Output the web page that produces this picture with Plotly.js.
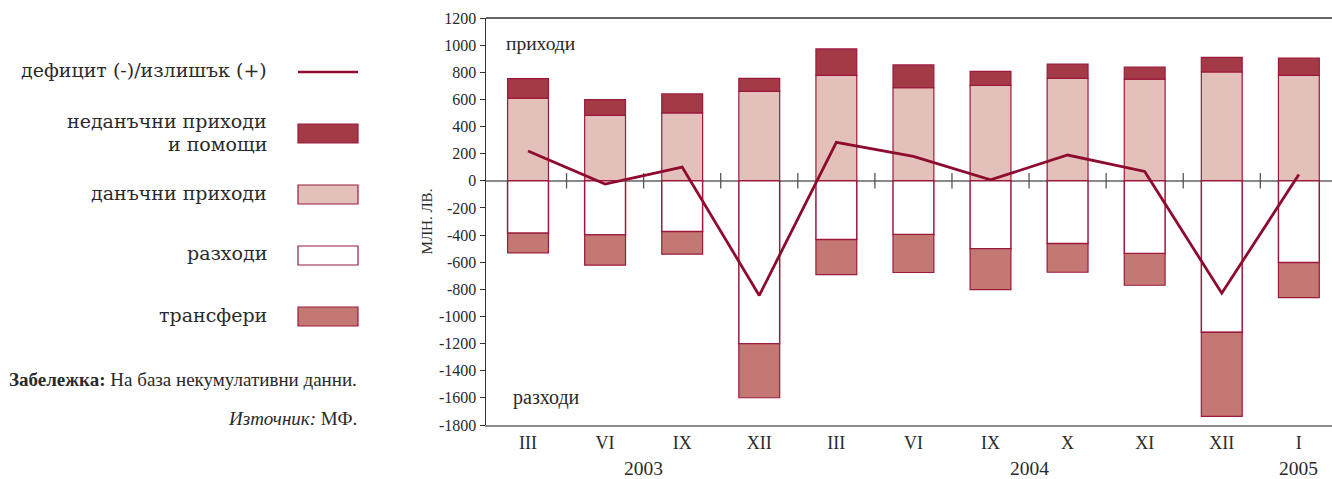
<!DOCTYPE html>
<html><head><meta charset="utf-8">
<script src="https://cdn.plot.ly/plotly-3.0.1.min.js"></script>
<style>html,body{margin:0;padding:0;background:#fff}#chart{width:1332px;height:479px}</style>
</head><body><div id="chart"></div>
<script>
// ---- data ----
const months = ['III','VI','IX','XII','III','VI','IX','X','XI','XII','I'];
const years = ['2003','2004','2005'];
const yearCenters = [1.5, 6.5, 10];
const taxRevenue = [610,482,500,659,777,686,703,755,750,802,777];
const nonTaxRevenue = [143,116,140,96,195,168,104,106,89,108,128];
const expenditures = [-386,-399,-374,-1201,-433,-396,-500,-463,-536,-1117,-603];
const transfers = [-145,-223,-167,-398,-258,-280,-302,-211,-234,-620,-258];
const balance = [220,-24,101,-845,283,180,7,190,69,-829,47];
const yTickVals = [1200,1000,800,600,400,200,0,-200,-400,-600,-800,-1000,-1200,-1400,-1600,-1800];
const yTickText = ['1200','1000','800','600','400','200','0','-200','-400','-600','-800','-1000','-1200','-1400','-1600','-1800'];
const legendLabels = ['дефицит (-)/излишък (+)','неданъчни приходи','и помощи','данъчни приходи','разходи','трансфери'];

// ---- styles ----
const FONT = 'Liberation Serif, Times New Roman, serif';
const LFONT = 'DejaVu Serif, serif';
const TXT = '#2a2a2a';
const C_NONTAX = '#a33a46';
const C_TAX = '#e3c0ba';
const C_TRANS = '#c47874';
const C_EDGE = '#9b1a3c';
const C_LINE = '#8e0b30';

const L = 486, T = 18, W = 846, H = 407;
const px = x => (x - L) / W;
const py = y => (T + H - y) / H;

const xs = months.map((_, i) => i);
const barW = 0.53;

const traces = [
  {type:'bar', x:xs, y:taxRevenue, width:barW, marker:{color:C_TAX, line:{color:C_EDGE, width:1.2}}, hoverinfo:'y', showlegend:false},
  {type:'bar', x:xs, y:nonTaxRevenue, width:barW, marker:{color:C_NONTAX, line:{color:C_EDGE, width:1.2}}, hoverinfo:'y', showlegend:false},
  {type:'bar', x:xs, y:expenditures, width:barW, marker:{color:'#ffffff', line:{color:C_EDGE, width:1.5}}, hoverinfo:'y', showlegend:false},
  {type:'bar', x:xs, y:transfers, width:barW, marker:{color:C_TRANS, line:{color:C_EDGE, width:1.2}}, hoverinfo:'y', showlegend:false},
  {type:'scatter', mode:'markers', x:xs.slice(0, -1).map(v => v + 0.5), y:xs.slice(0, -1).map(() => 0),
   marker:{symbol:'line-ns-open', size:11, color:'#555', line:{color:'#555', width:1.3}}, hoverinfo:'skip', showlegend:false},
  {type:'scatter', mode:'lines', x:xs, y:balance, line:{color:C_LINE, width:2.8}, hoverinfo:'y', showlegend:false}
];

const annotations = [];
const shapes = [];
function txt(text, x, y, anchor, size, family) {
  annotations.push({text, xref:'paper', yref:'paper', x:px(x), y:py(y), xanchor:anchor, yanchor:'middle',
    showarrow:false, font:{family:family || FONT, size, color:TXT}});
}
// legend texts
const legY = [69.5, 120.5, 143.5, 192.5, 253, 314.5];
legendLabels.forEach((t, i) => txt(t, 269, legY[i], 'right', 19, LFONT));
// legend swatches
shapes.push({type:'line', xref:'paper', yref:'paper', x0:px(298), x1:px(358), y0:py(72), y1:py(72), line:{color:C_LINE, width:2.5}});
function box(y0, y1, fill) {
  shapes.push({type:'rect', xref:'paper', yref:'paper', x0:px(298), x1:px(358), y0:py(y1), y1:py(y0), fillcolor:fill, line:{color:C_EDGE, width:1.2}});
}
box(124, 143, C_NONTAX);
box(185, 204, C_TAX);
box(246, 265, '#ffffff');
box(307, 326, C_TRANS);
// notes
txt('<b>Забележка:</b> На база некумулативни данни.', 7, 379, 'left', 19);
txt('<i>Източник:</i> МФ.', 359, 418, 'right', 19);
// in-plot labels
txt('приходи', 504, 43, 'left', 19.5);
txt('разходи', 511, 397, 'left', 20);
// years
years.forEach((y, i) => annotations.push({text:y, xref:'x', yref:'paper', x:yearCenters[i], y:py(468), xanchor:'center', yanchor:'middle',
  showarrow:false, font:{family:FONT, size:19.5, color:TXT}}));
// top border
shapes.push({type:'line', xref:'paper', yref:'paper', x0:0, x1:1, y0:1, y1:1, line:{color:'#333', width:1.5}});

const layout = {
  width:1332, height:479,
  margin:{l:L, r:1332 - L - W, t:T, b:479 - T - H},
  paper_bgcolor:'#fff', plot_bgcolor:'#fff',
  barmode:'relative', bargap:0,
  font:{family:FONT, color:TXT},
  xaxis:{range:[-0.545, 10.43], tickvals:xs, ticktext:months, showgrid:false, zeroline:false,
    showline:true, linecolor:'#8a8a8a', linewidth:2, ticks:'', tickfont:{family:FONT, size:18, color:TXT}, fixedrange:true},
  yaxis:{range:[-1800, 1200], tickvals:yTickVals, ticktext:yTickText, showgrid:false,
    zeroline:true, zerolinecolor:'#8a8a8a', zerolinewidth:2,
    showline:true, linecolor:'#333', linewidth:1.5, ticks:'outside', ticklen:5, tickcolor:'#333',
    tickfont:{family:FONT, size:16, color:TXT},
    title:{text:'МЛН. ЛВ.', font:{family:FONT, size:15, color:TXT}, standoff:2}, fixedrange:true},
  annotations, shapes, showlegend:false
};

Plotly.newPlot('chart', traces, layout, {displayModeBar:false, staticPlot:true});
</script></body></html>
